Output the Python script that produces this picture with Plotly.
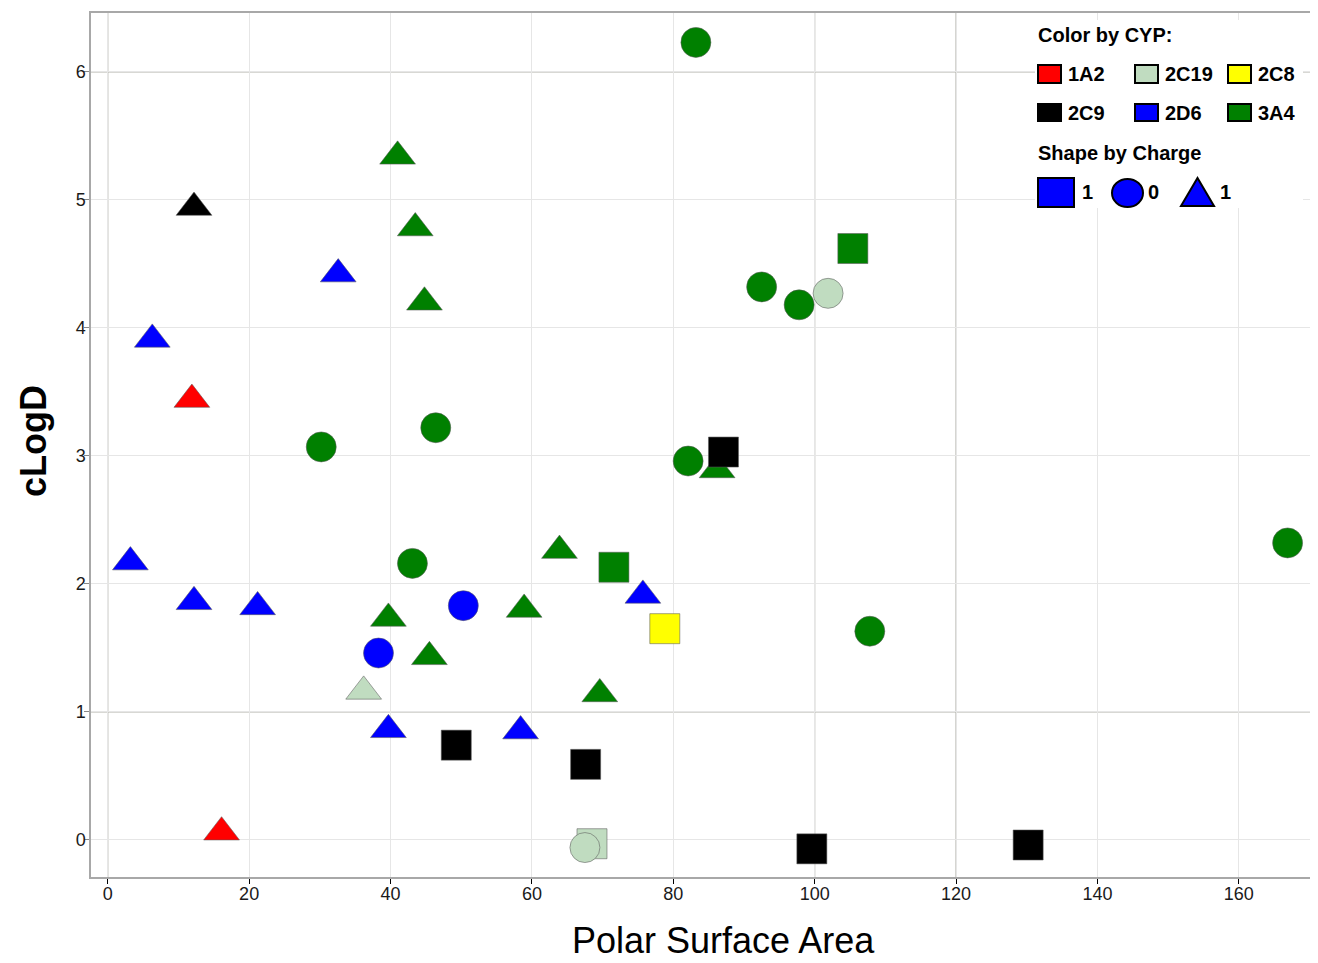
import plotly.graph_objects as go

# ---------------- data ----------------
cyp_names = ["1A2", "2C19", "2C8", "2C9", "2D6", "3A4"]
cyp_colors = ["#FF0000", "#C0DCC0", "#FFFF00", "#000000", "#0000FF", "#008000"]
charge_values = [1, 0, -1]
charge_labels = ["1", "0", "1"]
charge_symbols = ["square", "circle", "triangle-up"]

# points: triangles (charge -1), squares (charge 1), circles (charge 0)
cyp = ["2C9", "2D6", "2D6", "1A2", "2D6", "2D6", "2D6", "1A2", "3A4", "3A4", "3A4",
       "3A4", "3A4", "3A4", "3A4", "2C19", "3A4", "2D6", "2D6", "2D6", "3A4",
       "3A4", "2C9", "3A4", "2C8", "2C9", "2C9", "2C19", "2C9", "2C9",
       "3A4", "3A4", "3A4", "2C19", "3A4", "3A4", "3A4", "3A4", "2D6", "2D6",
       "3A4", "3A4", "2C19"]
charge = [-1] * 21 + [1] * 9 + [0] * 13
psa = [12.2, 32.6, 6.3, 11.9, 3.2, 12.2, 21.2, 16.1, 41.0, 43.5, 44.8,
       63.9, 39.7, 58.9, 45.5, 36.2, 69.6, 39.7, 58.4, 75.7, 86.2,
       105.4, 87.1, 71.6, 78.8, 49.3, 67.6, 68.5, 99.6, 130.2,
       83.2, 92.5, 97.8, 101.9, 30.2, 46.4, 82.1, 43.1, 50.3, 38.3,
       166.9, 107.8, 67.5]
clogd = [4.94, 4.42, 3.91, 3.44, 2.17, 1.86, 1.82, 0.06, 5.34, 4.78, 4.20,
         2.26, 1.73, 1.80, 1.43, 1.16, 1.14, 0.86, 0.85, 1.91, 2.89,
         4.62, 3.03, 2.13, 1.65, 0.74, 0.59, -0.03, -0.07, -0.04,
         6.23, 4.32, 4.18, 4.27, 3.07, 3.22, 2.96, 2.16, 1.83, 1.46,
         2.32, 1.63, -0.06]

x_ticks = [0, 20, 40, 60, 80, 100, 120, 140, 160]
y_ticks = [0, 1, 2, 3, 4, 5, 6]
ref_x = [0, 100, 120]
ref_y = [1, 6]

# ---------------- figure ----------------
OFF = 8  # page body margin
W, H = 1318 - OFF, 963 - OFF
L, R, T, B = 91, 1318, 13, 877  # plot area in page pixels


def px(x):
    return (x - L) / (R - L)


def py(y):
    return (B - y) / (B - T)


color_of = dict(zip(cyp_names, cyp_colors))
symbol_of = dict(zip(charge_values, charge_symbols))

fig = go.Figure()
fig.add_trace(go.Scatter(
    x=psa, y=clogd, mode="markers",
    marker=dict(
        size=[31 if q == -1 else 30 for q in charge],
        color=[color_of[c] for c in cyp],
        symbol=[symbol_of[q] for q in charge],
        line=dict(width=1, color="rgba(90,90,90,0.55)"),
        opacity=1,
    ),
    showlegend=False, hoverinfo="x+y",
))

shapes = []
for xv in ref_x:
    shapes.append(dict(type="line", xref="x", yref="paper", x0=xv, x1=xv, y0=0, y1=1,
                       line=dict(color="#b2b2aa", width=1.2), layer="between"))
for yv in ref_y:
    shapes.append(dict(type="line", xref="paper", yref="y", x0=0, x1=1, y0=yv, y1=yv,
                       line=dict(color="#b2b2aa", width=1.2), layer="between"))

# legend background
shapes.append(dict(type="rect", xref="paper", yref="paper",
                   x0=px(1035), x1=px(1303), y0=py(208), y1=py(20),
                   fillcolor="white", line=dict(width=0), layer="above"))

annotations = []
lfont = dict(family="Liberation Sans, Arial, sans-serif", size=20, color="black")
annotations.append(dict(text="<b>Color by CYP:</b>", xref="paper", yref="paper",
                        x=px(1036), y=py(35), xanchor="left", yanchor="middle",
                        showarrow=False, font=lfont))
col_x = [1038, 1135, 1228]
row_y = [(65, 83), (104, 121)]
for i, name in enumerate(cyp_names):
    r, c = divmod(i, 3)
    x0 = col_x[c]
    y0, y1 = row_y[r]
    shapes.append(dict(type="rect", xref="paper", yref="paper",
                       x0=px(x0), x1=px(x0 + 23), y0=py(y1), y1=py(y0),
                       fillcolor=color_of[name], line=dict(color="black", width=2),
                       layer="above"))
    annotations.append(dict(text="<b>" + name + "</b>", xref="paper", yref="paper",
                            x=px(x0 + 28), y=py((y0 + y1) / 2), xanchor="left",
                            yanchor="middle", showarrow=False, font=lfont))

annotations.append(dict(text="<b>Shape by Charge</b>", xref="paper", yref="paper",
                        x=px(1036), y=py(153), xanchor="left", yanchor="middle",
                        showarrow=False, font=lfont))
# shape legend
shapes.append(dict(type="rect", xref="paper", yref="paper",
                   x0=px(1038), x1=px(1074), y0=py(207), y1=py(178),
                   fillcolor="#0000FF", line=dict(color="black", width=2), layer="above"))
shapes.append(dict(type="circle", xref="paper", yref="paper",
                   x0=px(1112), x1=px(1143), y0=py(207), y1=py(179),
                   fillcolor="#0000FF", line=dict(color="black", width=2), layer="above"))
shapes.append(dict(type="path", xref="paper", yref="paper",
                   path="M {},{} L {},{} L {},{} Z".format(px(1181), py(206), px(1214), py(206),
                                                         px(1197.5), py(178)),
                   fillcolor="#0000FF", line=dict(color="black", width=2), layer="above"))
for lab, tx in zip(charge_labels, [1080, 1146, 1218]):
    annotations.append(dict(text="<b>" + lab + "</b>", xref="paper", yref="paper",
                            x=px(tx), y=py(192), xanchor="left", yanchor="middle",
                            showarrow=False, font=lfont))

# axis titles
annotations.append(dict(text="Polar Surface Area", xref="paper", yref="paper",
                        x=px(723), y=py(940), xanchor="center", yanchor="middle",
                        showarrow=False,
                        font=dict(family="Liberation Sans, Arial", size=36, color="black")))
annotations.append(dict(text="<b>cLogD</b>", xref="paper", yref="paper",
                        x=px(33), y=py(441), xanchor="center", yanchor="middle",
                        textangle=-90, showarrow=False,
                        font=dict(family="Liberation Sans, Arial", size=36, color="black")))

tickfont = dict(family="Liberation Sans, Arial, sans-serif", size=18, color="#1a1a1a")
fig.update_layout(
    width=W, height=H,
    margin=dict(l=L - OFF, r=1318 - R, t=T - OFF, b=963 - B),
    paper_bgcolor="white", plot_bgcolor="white",
    shapes=shapes, annotations=annotations,
    xaxis=dict(range=[-2.37, 171.2], tickvals=x_ticks, ticks="outside", ticklen=5,
               tickcolor="black", tickfont=tickfont, showgrid=True, gridcolor="#e6e6e6",
               gridwidth=1, zeroline=False, showline=True, linecolor="#a8a8a8",
               linewidth=1.5, mirror=True, ticklabelstandoff=-5),
    yaxis=dict(range=[-0.29, 6.46], tickvals=y_ticks, ticks="outside", ticklen=5,
               tickcolor="#888", tickfont=tickfont, showgrid=True, gridcolor="#e6e6e6",
               gridwidth=1, zeroline=False, showline=True, linecolor="#a8a8a8",
               linewidth=1.5, mirror=False, ticklabelstandoff=-5),
)

fig.write_html("out.html")
